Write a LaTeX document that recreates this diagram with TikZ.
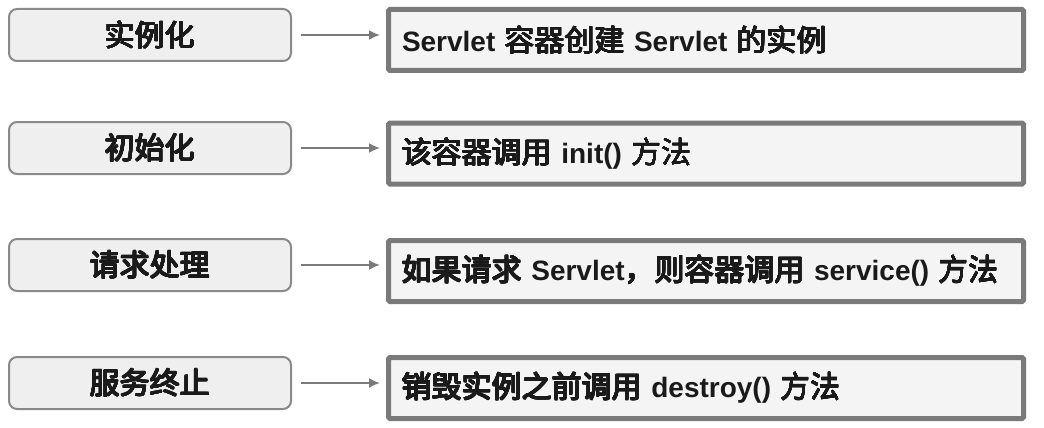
\documentclass[tikz,border=0pt]{standalone}
\usepackage{fontspec}
\setmainfont{Liberation Sans}
\newfontfamily\cjk{Noto Sans CJK SC}
\usepackage{contour}
\contourlength{0.3pt}
\contournumber{16}
\usepackage{tikz}
\usetikzlibrary{positioning,arrows.meta}

\definecolor{stagefill}{HTML}{EFEFEF}
\definecolor{stageline}{HTML}{8A8A8A}
\definecolor{infofill}{HTML}{F4F4F4}
\definecolor{infoline}{HTML}{7A7A7A}
\definecolor{arrowgray}{HTML}{7A7A7A}
\definecolor{inktext}{HTML}{1A1A1A}

\newcommand{\zh}[1]{{\cjk\mdseries\fontsize{30}{32}\selectfont\contour{inktext}{#1}}}

\begin{document}
\begin{tikzpicture}[
			x=1pt, y=-1pt,
			stage/.style={
				draw=stageline,
				fill=stagefill,
				line width=2pt,
				rounded corners=8pt,
				minimum width=282pt,
				minimum height=52pt,
				align=center,
				text=inktext,
				font=\fontsize{28}{32}\selectfont
			},
			info/.style={
				draw=infoline,
				fill=infofill,
				line width=5pt,
				rounded corners=1.5pt,
				minimum height=61pt,
				inner xsep=13.5pt,
				text width=608pt,
				align=left,
				text=inktext,
				font=\fontsize{28}{32}\selectfont\bfseries
			},
			arrow/.style={-{Latex[length=11pt,width=10pt]},draw=arrowgray,line width=2pt,shorten <=9pt,shorten >=6pt}
			]
			\useasboundingbox (0,0) rectangle (1044,428);
			
			\node[stage] (inst) at (150,35) {\zh{实例化}};
			\node[stage] (init) at (150,148) {\zh{初始化}};
			\node[stage] (serve) at (150,265) {\zh{请求处理}};
			\node[stage] (stop) at (150,383) {\zh{服务终止}};
			
			\node[info] (create) at (706,40) {Servlet \zh{容器创建} Servlet \zh{的实例}};
			\node[info] (callinit) at (706,153.5) {\zh{该容器调用} init() \zh{方法}};
			\node[info] (callserve) at (706,271) {\zh{如果请求} Servlet\zh{，则容器调用} service() \zh{方法}};
			\node[info] (calldestroy) at (706,388) {\zh{销毁实例之前调用} destroy() \zh{方法}};
			
			\draw[arrow] (inst.east) -- (inst.east -| create.west);
			\draw[arrow] (init.east) -- (init.east -| callinit.west);
			\draw[arrow] (serve.east) -- (serve.east -| callserve.west);
			\draw[arrow] (stop.east) -- (stop.east -| calldestroy.west);
			
		\end{tikzpicture}
\end{document}
